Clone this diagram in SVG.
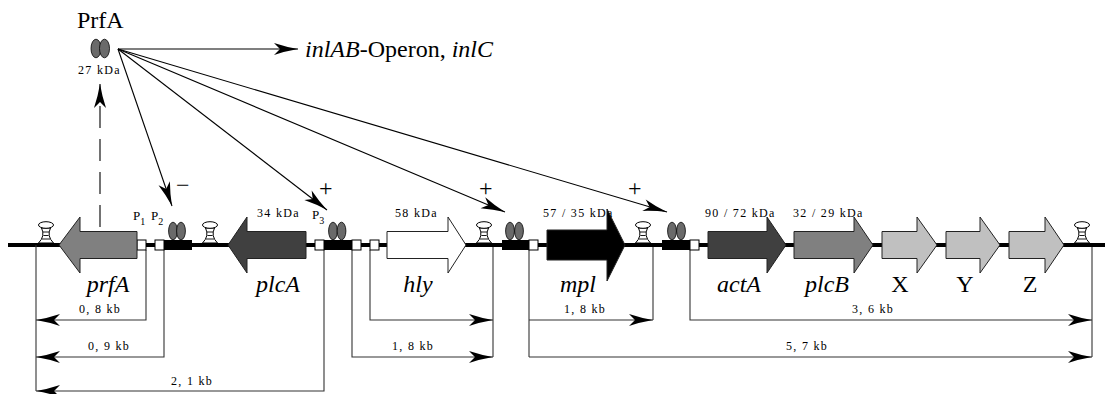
<svg xmlns="http://www.w3.org/2000/svg" width="1111" height="394" viewBox="0 0 1111 394">
<style>
.big{font-family:"Liberation Serif","Times New Roman",serif;font-size:24px;fill:#000}
.it{font-style:italic}
.sm{font-family:"Liberation Serif","Times New Roman",serif;font-size:12px;letter-spacing:1.3px;fill:#000}
.pl{font-family:"Liberation Serif","Times New Roman",serif;font-size:13px;fill:#000}
.gene{stroke:#222;stroke-width:1}
.op{fill:#6a6a6a;stroke:#000;stroke-width:0.8}
.opbox{fill:#000}
.prom{fill:#fff;stroke:#000;stroke-width:1}
.con{stroke:#000;stroke-width:1.1;fill:none}
.dim{stroke:#333;stroke-width:1.1;fill:none}
</style>
<defs>
<marker id="ah" markerWidth="26" markerHeight="14" refX="24" refY="6" orient="auto" markerUnits="userSpaceOnUse" overflow="visible">
<path d="M24,6 Q12,4 0,0 L6,6 L0,12 Q12,8 24,6 Z" fill="#000"/>
</marker>
<g id="term">
<path d="M-4.5,-17 Q-0.5,-9 -7.5,-2 L7.5,-2 Q0.5,-9 4.5,-17 Z" fill="#fff" stroke="#000" stroke-width="1"/>
<path d="M-3,-13 H3 M-2.6,-9.5 H2.6 M-4,-6 H4" stroke="#000" stroke-width="0.9"/>
<ellipse cx="0" cy="-20" rx="7.5" ry="3.3" fill="#fff" stroke="#000" stroke-width="1"/>
</g>
</defs>
<rect width="1111" height="394" fill="#fff"/>

<!-- DNA backbone -->
<line x1="8" y1="245" x2="1105" y2="245" stroke="#000" stroke-width="4"/>

<!-- dimension lines -->
<g id="dimensions">
<path class="dim" d="M36,245 V391"/>
<path class="dim" d="M146,250 V320 H36" marker-end="url(#ah)"/>
<path class="dim" d="M164,250 V357 H36" marker-end="url(#ah)"/>
<path class="dim" d="M324,250 V391 H36" marker-end="url(#ah)"/>
<path class="dim" d="M493,247 V357"/>
<path class="dim" d="M370,250 V320 H493" marker-end="url(#ah)"/>
<path class="dim" d="M352,250 V357 H493" marker-end="url(#ah)"/>
<path class="dim" d="M653,247 V320"/>
<path class="dim" d="M529,250 V357"/>
<path class="dim" d="M529,320 H653" marker-end="url(#ah)"/>
<path class="dim" d="M1092,247 V357"/>
<path class="dim" d="M690,250 V320 H1092" marker-end="url(#ah)"/>
<path class="dim" d="M529,357 H1092" marker-end="url(#ah)"/>
<text class="sm" x="79" y="313">0, 8 kb</text>
<text class="sm" x="88" y="350">0, 9 kb</text>
<text class="sm" x="171" y="385">2, 1 kb</text>
<text class="sm" x="392" y="350">1, 8 kb</text>
<text class="sm" x="564" y="313">1, 8 kb</text>
<text class="sm" x="852" y="313">3, 6 kb</text>
<text class="sm" x="786" y="350">5, 7 kb</text>
</g>

<!-- terminators -->
<g id="terminators">
<use href="#term" x="46" y="245"/>
<use href="#term" x="210" y="245"/>
<use href="#term" x="484" y="245"/>
<use href="#term" x="643" y="245"/>
<use href="#term" x="1082" y="245"/>
</g>

<!-- promoters / operators -->
<g id="promoter-P1"><rect class="prom" x="137" y="240" width="9" height="10"/>
<text class="pl" x="133" y="220">P<tspan font-size="10" dy="5">1</tspan></text></g>
<g id="promoter-P2"><rect class="prom" x="155" y="240" width="9" height="10"/>
<text class="pl" x="151" y="220">P<tspan font-size="10" dy="5">2</tspan></text></g>
<g id="operator-1"><rect class="opbox" x="164" y="240" width="28" height="10"/>
<ellipse class="op" cx="173" cy="231" rx="4.4" ry="8.8"/><ellipse class="op" cx="181" cy="231" rx="4.4" ry="8.8"/></g>
<g id="promoter-P3"><rect class="prom" x="315" y="240" width="9" height="10"/>
<text class="pl" x="312" y="219">P<tspan font-size="10" dy="5">3</tspan></text></g>
<g id="operator-2"><rect class="opbox" x="324" y="240" width="28" height="10"/>
<ellipse class="op" cx="333" cy="231" rx="4.4" ry="8.8"/><ellipse class="op" cx="341.5" cy="231" rx="4.4" ry="8.8"/></g>
<g id="promoter-hly1"><rect class="prom" x="352" y="240" width="9" height="10"/></g>
<g id="promoter-hly2"><rect class="prom" x="370" y="240" width="9" height="10"/></g>
<g id="operator-3"><rect class="opbox" x="502" y="240" width="27" height="10"/>
<ellipse class="op" cx="510" cy="231" rx="4.4" ry="8.8"/><ellipse class="op" cx="519" cy="231" rx="4.4" ry="8.8"/></g>
<g id="promoter-mpl"><rect class="prom" x="529" y="240" width="9" height="10"/></g>
<g id="operator-4"><rect class="opbox" x="662" y="240" width="28" height="10"/>
<ellipse class="op" cx="672" cy="231" rx="4.4" ry="8.8"/><ellipse class="op" cx="681" cy="231" rx="4.4" ry="8.8"/></g>
<g id="promoter-actA"><rect class="prom" x="690" y="240" width="9" height="10"/></g>

<!-- genes -->
<g id="gene-prfA">
<polygon class="gene" fill="#808080" points="59,245 80,217 80,231.5 137,231.5 137,258.5 80,258.5 80,273"/>
<text class="big it" x="108" y="292" text-anchor="middle">prfA</text></g>
<g id="gene-plcA">
<polygon class="gene" fill="#404040" points="228,245 247,217 247,231.5 306,231.5 306,258.5 247,258.5 247,273"/>
<text class="sm" x="257" y="217">34 kDa</text>
<text class="big it" x="278" y="292" text-anchor="middle">plcA</text></g>
<g id="gene-hly">
<polygon class="gene" fill="#fff" points="387,231.5 448,231.5 448,217 466,245 448,273 448,258.5 387,258.5"/>
<text class="sm" x="395" y="217">58 kDa</text>
<text class="big it" x="418" y="292" text-anchor="middle">hly</text></g>
<g id="gene-mpl">
<polygon class="gene" fill="#000" points="547,230 607,230 607,209 625,245 607,281 607,260 547,260"/>
<text class="sm" x="543" y="217">57 / 35 kDa</text>
<text class="big it" x="578" y="292" text-anchor="middle">mpl</text></g>
<g id="gene-actA">
<polygon class="gene" fill="#404040" points="708,231.5 767,231.5 767,217 786,245 767,273 767,258.5 708,258.5"/>
<text class="sm" x="705" y="217">90 / 72 kDa</text>
<text class="big it" x="739" y="292" text-anchor="middle">actA</text></g>
<g id="gene-plcB">
<polygon class="gene" fill="#808080" points="794,231.5 854,231.5 854,217 873,245 854,273 854,258.5 794,258.5"/>
<text class="sm" x="793" y="217">32 / 29 kDa</text>
<text class="big it" x="827" y="292" text-anchor="middle">plcB</text></g>
<g id="gene-X">
<polygon class="gene" fill="#c0c0c0" points="882,231.5 917,231.5 917,217 937,245 917,273 917,258.5 882,258.5"/>
<text class="big" x="900" y="292" text-anchor="middle">X</text></g>
<g id="gene-Y">
<polygon class="gene" fill="#c0c0c0" points="946,231.5 980,231.5 980,217 1000,245 980,273 980,258.5 946,258.5"/>
<text class="big" x="965" y="292" text-anchor="middle">Y</text></g>
<g id="gene-Z">
<polygon class="gene" fill="#c0c0c0" points="1009,231.5 1045,231.5 1045,217 1064,245 1045,273 1045,258.5 1009,258.5"/>
<text class="big" x="1030" y="292" text-anchor="middle">Z</text></g>

<!-- PrfA protein -->
<g id="prfA-protein">
<text class="big" x="77" y="28">PrfA</text>
<ellipse class="op" cx="96" cy="48.5" rx="5" ry="9.3"/>
<ellipse class="op" cx="104.5" cy="48.5" rx="5" ry="9.3"/>
<text class="sm" x="78" y="74">27 kDa</text>
</g>
<g id="inl-target">
<text class="big" x="305" y="57"><tspan class="it">inlAB</tspan>-Operon, <tspan class="it">inlC</tspan></text>
</g>

<!-- connectors -->
<g id="connectors">
<path class="con" d="M100,227 V84" stroke-dasharray="22,11" marker-end="url(#ah)"/>
<path class="con" d="M118,49 H298" marker-end="url(#ah)"/>
<path class="con" d="M118,49 L172,206" marker-end="url(#ah)"/>
<path class="con" d="M118,49 L327,210" marker-end="url(#ah)"/>
<path class="con" d="M118,49 L505,212" marker-end="url(#ah)"/>
<path class="con" d="M118,49 L667,212" marker-end="url(#ah)"/>
<text class="big" x="176" y="193">−</text>
<text class="big" x="319" y="196">+</text>
<text class="big" x="479" y="196">+</text>
<text class="big" x="628" y="196">+</text>
</g>
</svg>
